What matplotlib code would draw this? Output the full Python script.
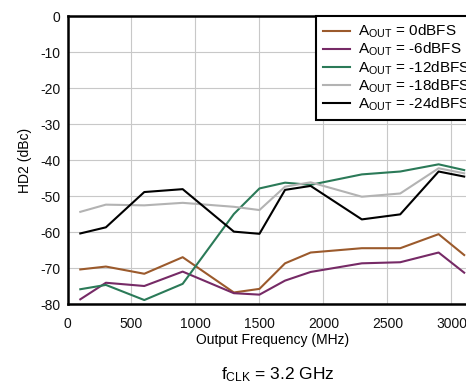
import matplotlib
matplotlib.use("Agg")
import matplotlib.pyplot as plt

plt.rcParams["font.family"] = ["Liberation Sans", "DejaVu Sans"]
plt.rcParams["mathtext.fontset"] = "custom"
plt.rcParams["mathtext.rm"] = "Liberation Sans"
plt.rcParams["mathtext.it"] = "Liberation Sans:italic"
plt.rcParams["axes.unicode_minus"] = False

# Datos
freq = [100, 300, 600, 900, 1300, 1500, 1700, 1900, 2300, 2600, 2900, 3100]
hd2_0db = [-70.4, -69.6, -71.6, -67.0, -76.8, -75.8, -68.7, -65.7, -64.5, -64.5, -60.6, -66.4]
hd2_6db = [-78.7, -74.1, -75.0, -71.0, -77.0, -77.4, -73.5, -71.1, -68.7, -68.4, -65.7, -71.3]
hd2_12db = [-75.9, -74.7, -78.9, -74.4, -55.0, -47.9, -46.3, -46.9, -44.0, -43.2, -41.2, -42.8]
hd2_18db = [-54.4, -52.4, -52.6, -51.9, -53.0, -53.9, -47.4, -46.2, -50.2, -49.3, -42.3, -43.7]
hd2_24db = [-60.4, -58.7, -48.9, -48.1, -59.9, -60.5, -48.3, -47.2, -56.5, -55.1, -43.2, -44.6]

series = [
    (hd2_0db, r"A$_\mathrm{OUT}$ = 0dBFS", "#9b5a2c"),
    (hd2_6db, r"A$_\mathrm{OUT}$ = -6dBFS", "#762a66"),
    (hd2_12db, r"A$_\mathrm{OUT}$ = -12dBFS", "#2b7a58"),
    (hd2_18db, r"A$_\mathrm{OUT}$ = -18dBFS", "#b3b3b3"),
    (hd2_24db, r"A$_\mathrm{OUT}$ = -24dBFS", "#000000"),
]

fig = plt.figure(figsize=(4.66, 3.87), dpi=100)
# el eje sigue mas alla del borde derecho, como en la imagen original
ax = fig.add_axes([67.5 / 466, 83 / 387, (477 - 67.5) / 466, 288 / 387])

for vals, lab, col in series:
    ax.plot(freq, vals, color=col, linewidth=1.5, label=lab)

ax.set_xlim(0, 3200)
ax.set_ylim(-80, 0)
ax.set_xticks([0, 500, 1000, 1500, 2000, 2500, 3000])
ax.set_yticks(range(-80, 1, 10))
ax.grid(True, color="#c8c8c8", linewidth=0.8)
ax.set_axisbelow(True)
ax.tick_params(length=0, labelsize=10, colors="#111111")
ax.tick_params(axis="x", pad=9)
ax.tick_params(axis="y", pad=5)
for s in ax.spines.values():
    s.set_linewidth(1.8)
    s.set_color("black")

ax.set_xlabel("Output Frequency (MHz)", fontsize=10, labelpad=2)
ax.set_ylabel("HD2 (dBc)", fontsize=10, labelpad=6)

leg = ax.legend(loc="upper left", bbox_to_anchor=(316 / 466, 1 - 16 / 387),
                bbox_transform=fig.transFigure, fontsize=11, frameon=True,
                fancybox=False, framealpha=1, edgecolor="black",
                handlelength=1.8, handletextpad=0.5, labelspacing=0.05,
                borderpad=0.45, borderaxespad=0)
leg.get_frame().set_linewidth(1.5)

fig.text(278 / 466, 1 - 375 / 387, r"f$_\mathrm{CLK}$ = 3.2 GHz", fontsize=12.5,
         ha="center", va="center")

fig.savefig("out.png", dpi=100)
